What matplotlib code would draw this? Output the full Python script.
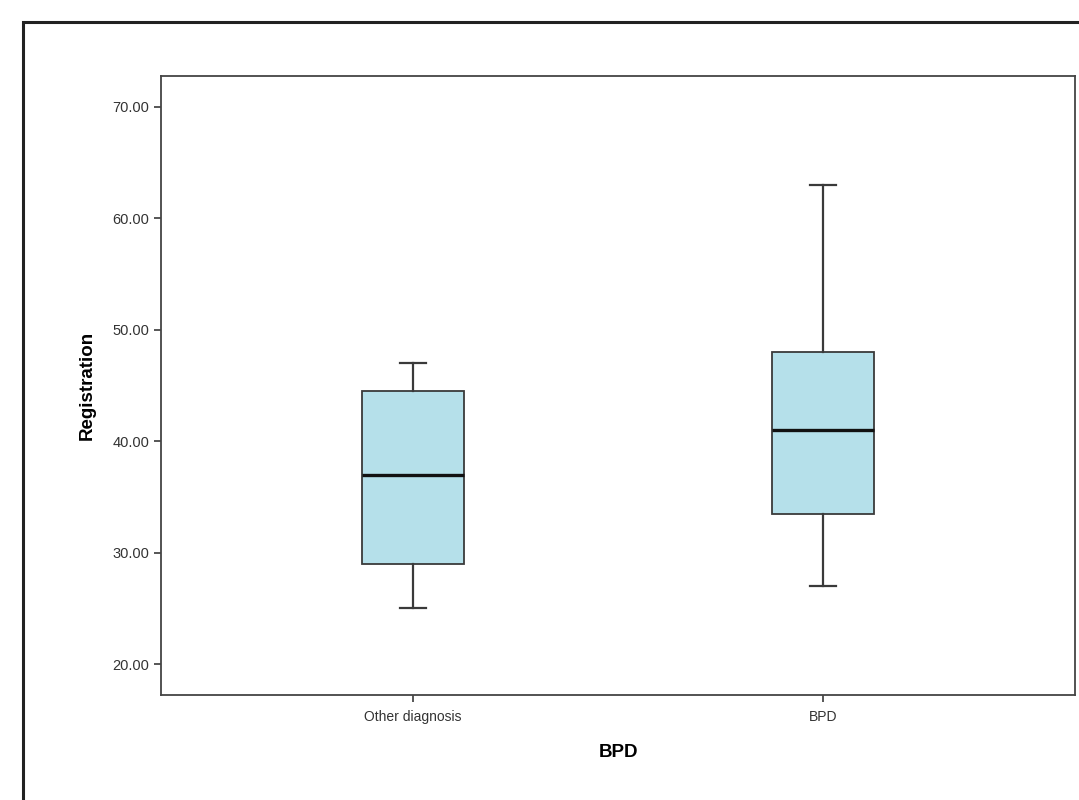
import matplotlib
matplotlib.use("Agg")
import matplotlib.pyplot as plt
from matplotlib.patches import Rectangle

plt.rcParams['font.family'] = ['Liberation Sans', 'DejaVu Sans']

# box statistics
groups = ["Other diagnosis", "BPD"]
whisker_low = [25.0, 27.0]
q1 = [29.0, 33.5]
median = [37.0, 41.0]
q3 = [44.5, 48.0]
whisker_high = [47.0, 63.0]
yticks = [20, 30, 40, 50, 60, 70]

stats = []
for i in range(len(groups)):
    stats.append({"label": groups[i], "whislo": whisker_low[i], "q1": q1[i],
                  "med": median[i], "q3": q3[i], "whishi": whisker_high[i], "fliers": []})

fig = plt.figure(figsize=(10.79, 8), dpi=100)
ax = fig.add_axes([161/1079, 1-695/800, 914/1079, 619/800])

edge = "#3a3a3a"
ax.bxp(stats, positions=[0, 1], widths=0.25, patch_artist=True, showfliers=False,
       capwidths=0.065,
       boxprops=dict(facecolor="#b5e0ea", edgecolor=edge, linewidth=1.3),
       whiskerprops=dict(color=edge, linewidth=1.6),
       capprops=dict(color=edge, linewidth=1.6),
       medianprops=dict(color="#111111", linewidth=2.4))

ax.set_xlim(-0.615, 1.615)
ax.set_ylim(17.22, 72.78)
ax.set_yticks(yticks)
ax.set_yticklabels(["%.2f" % v for v in yticks], fontsize=10.5, color="#333333")
ax.set_xticks([0, 1])
ax.set_xticklabels(groups, fontsize=10, color="#333333")
ax.tick_params(axis="x", length=5, width=1.2, color=edge, pad=6)
ax.tick_params(axis="y", length=5, width=1.2, color=edge)
for s in ax.spines.values():
    s.set_color("#444444")
    s.set_linewidth(1.3)

ax.set_ylabel("Registration", fontsize=13.5, fontweight="bold", labelpad=12)
ax.set_xlabel("BPD", fontsize=13.5, fontweight="bold", labelpad=14)

# outer frame around the whole figure (cropped at right/bottom)
top = 1 - 22/800
fig.patches.append(Rectangle((23/1079, -0.2), 1.2, top + 0.2, transform=fig.transFigure,
                             fill=False, edgecolor="#222222", linewidth=2.2))

fig.savefig("out.png", dpi=100)
